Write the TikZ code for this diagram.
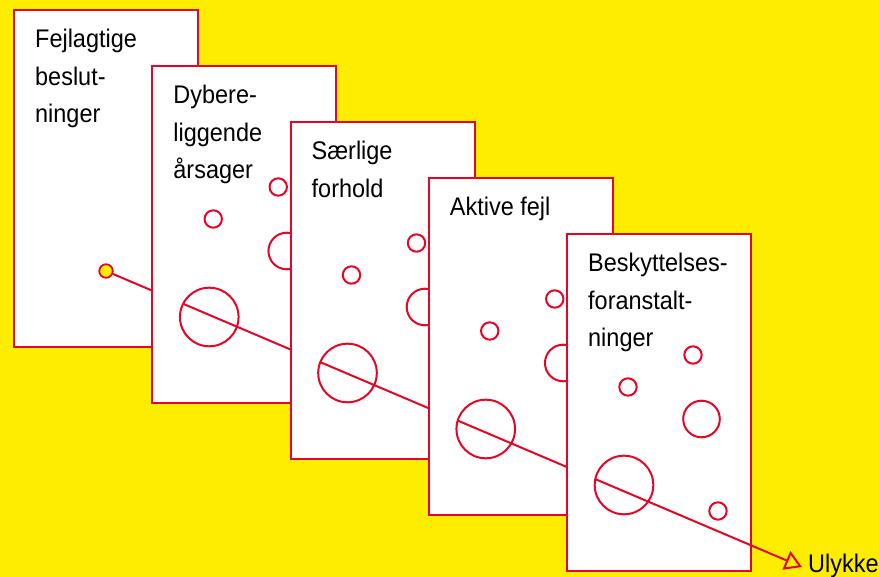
\documentclass[tikz,border=0pt]{standalone}
\usepackage{fontspec}
\setmainfont[FakeStretch=0.92]{Liberation Sans}
\usetikzlibrary{arrows.meta,intersections}
\definecolor{bgyellow}{RGB}{255,237,0}
\definecolor{holered}{RGB}{228,6,40}

\begin{document}
\begin{tikzpicture}[x=1pt,y=-1pt,
  card/.style={draw=holered, line width=2pt, fill=white},
  hole/.style={draw=holered, line width=2pt},
  ray/.style={draw=holered, line width=2pt},
  lbl/.style={anchor=base west, inner sep=0pt, font=\fontsize{25.5}{30}\selectfont},
  srcdot/.style={circle, draw=holered, fill=bgyellow, line width=1.8pt,
                 minimum size=13.5pt, inner sep=0pt}]

% yellow ground
\fill[bgyellow] (0,0) rectangle (879,577);
\useasboundingbox (0,0) rectangle (879,577);

% the accident trajectory
\coordinate (src) at (106,271);
\coordinate (tip) at (802,567);
\path[name path=ray] (src) -- (tip);

% where the trajectory enters the large hole of each slice
\foreach \k in {2,...,5}{
  \pgfmathsetmacro{\L}{14+138.25*(\k-1)}
  \pgfmathsetmacro{\T}{10+56*(\k-1)}
  \path[name path=big] ({\L+57},{\T+251}) circle[radius=29.3];
  \path[name intersections={of=ray and big, sort by=ray, by={in\k,out\k}}];
}

% slices, first slice first
\foreach \k/\lines in {1/{Fejlagtige,beslut-,ninger},
                       2/{Dybere-,liggende,årsager},
                       3/{Særlige,forhold},
                       4/{Aktive fejl},
                       5/{Beskyttelses-,foranstalt-,ninger}}{
  \pgfmathsetmacro{\L}{14+138.25*(\k-1)}
  \pgfmathsetmacro{\T}{10+56*(\k-1)}
  \draw[card] (\L,\T) rectangle ++(184,337);
  \foreach \txt [count=\i] in \lines {
    \pgfmathsetmacro{\ty}{\T+38+37.3*(\i-1)}
    \node[lbl] (t\k-\i) at ({\L+21},\ty) {\txt};
  }
  \ifnum\k=1
    \node[srcdot] (start) at (src) {};
    \draw[ray] (start) -- (in2);
  \else
    % holes of the slice
    \draw[hole] ({\L+61},{\T+153}) circle[radius=8.7];
    \draw[hole] ({\L+126},{\T+121}) circle[radius=8.7];
    \draw[hole] ({\L+134.5},{\T+185}) circle[radius=18.3];
    \draw[hole] ({\L+57},{\T+251}) circle[radius=29.3];
    \draw[hole] ({\L+151},{\T+277}) circle[radius=8.7];
    \ifnum\k<5
      \pgfmathtruncatemacro{\nx}{\k+1}
      \draw[ray] (in\k) -- (in\nx);
    \else
      \draw[ray, -{Triangle[open, length=17pt, width=20pt, line width=2pt]}]
        (in\k) -- (tip);
    \fi
  \fi
}

\node[lbl] (ulykke) at (808,572.5) {Ulykke};
\end{tikzpicture}
\end{document}
